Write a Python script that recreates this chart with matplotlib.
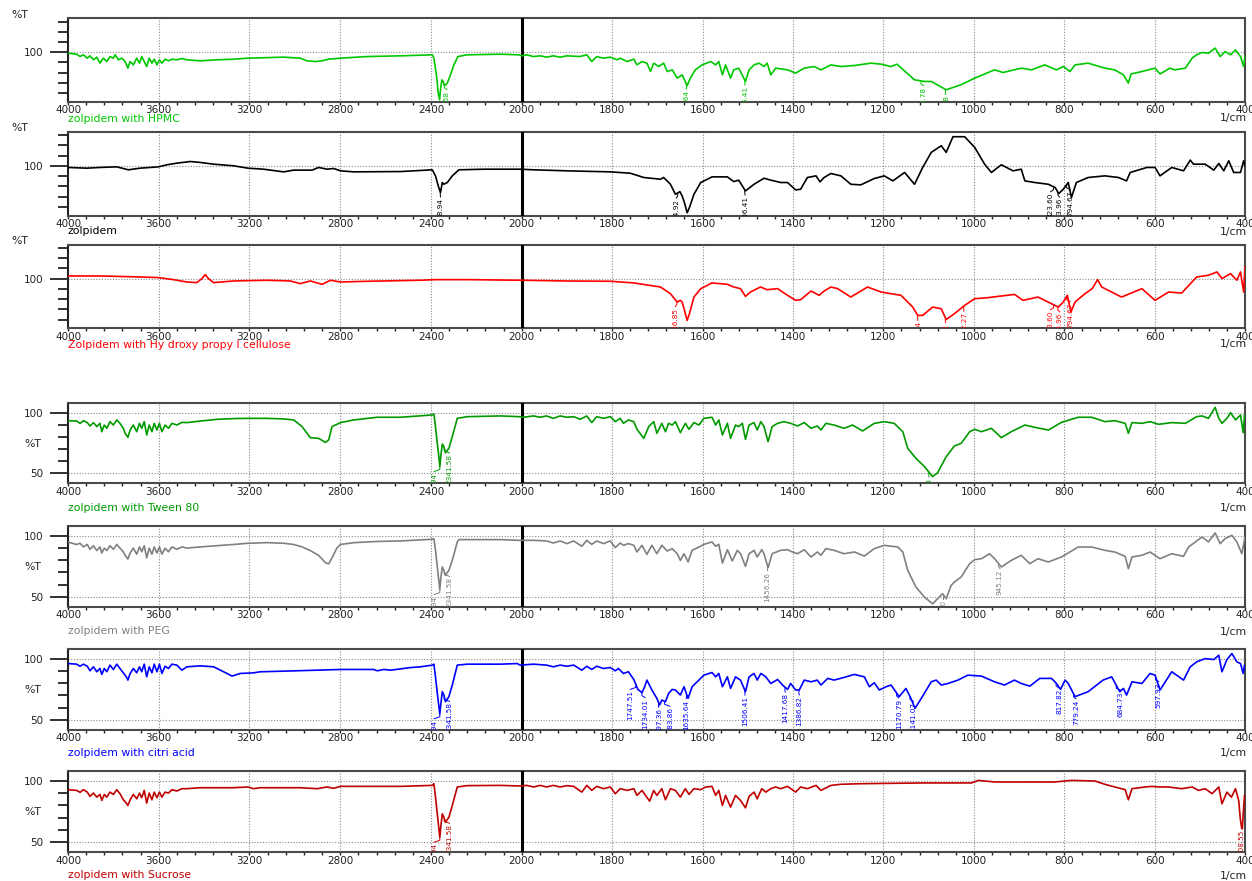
import numpy as np
import matplotlib
matplotlib.use("Agg")
import matplotlib.pyplot as plt

plt.rcParams['font.family'] = ['DejaVu Sans']

# ---------------- data (wavenumber in 1/cm, transmittance %T) ----------------
HPMC_WN = [4000,3962,3947,3932,3915,3903,3888,3873,3859,3844,3829,3815,3800,3792,3778,3763,3748,3736,3726,3712,
           3697,3685,3675,3664,3653,3642,3630,3620,3608,3597,3586,3572,3557,3542,3520,3498,3476,3417,3343,3270,
           3207,3049,2976,2946,2910,2880,2851,2800,2681,2534,2394,2387,2375,2368,2362,2358,2352,2346,2340,2328,
           2314,2299,2281,2240,2093,2012,2000,1989,1974,1959,1945,1930,1915,1900,1871,1856,1845,1834,1819,1804,
           1789,1782,1767,1752,1745,1734,1723,1715,1708,1697,1686,1678,1667,1656,1645,1634,1627,1616,1601,1582,
           1571,1564,1556,1549,1538,1531,1520,1505,1497,1486,1475,1464,1457,1449,1438,1412,1394,1375,1353,1338,
           1316,1294,1264,1227,1205,1183,1170,1131,1109,1094,1061,1028,998,954,935,895,872,843,817,802,
           787,776,747,710,688,669,658,652,628,599,588,566,555,532,517,507,495,481,466,455,
           444,432,421,410,403,400]
HPMC_T = [99.0,98.0,95.7,97.4,94.1,96.4,92.5,95.1,89.2,94.1,90.8,95.7,94.1,97.4,92.5,94.1,90.8,84.3,90.8,87.5,
          94.1,89.2,95.7,90.8,85.9,94.1,89.2,93.1,87.5,92.5,89.2,93.1,91.5,93.1,92.5,93.8,92.5,91.5,92.5,93.1,
          94.1,95.1,94.1,91.5,90.8,91.5,93.1,94.1,95.7,96.4,97.4,94.1,76.1,59.8,53.2,63.0,72.8,71.2,67.0,69.6,
          77.7,87.5,95.7,97.4,98.0,97.4,96.4,97.4,95.7,96.4,95.1,96.4,95.1,96.4,95.7,97.4,90.8,95.7,94.1,95.1,
          92.5,94.1,90.8,93.1,87.5,90.8,89.2,81.0,89.2,85.9,89.2,81.0,82.6,74.5,77.7,67.0,74.5,82.6,87.5,90.8,
          87.5,90.8,77.7,87.5,74.5,82.6,84.3,71.2,82.6,87.5,89.2,85.9,89.2,77.7,84.3,82.6,79.4,84.3,85.9,82.6,
          87.5,85.9,86.9,89.2,88.2,85.9,88.2,72.8,71.2,71.2,63.0,68.0,74.5,82.6,80.0,84.3,82.6,87.5,82.6,85.9,
          81.0,87.5,89.2,84.3,82.6,77.7,69.6,78.6,81.0,84.3,78.6,84.3,82.6,84.3,94.1,97.4,99.7,99.0,104.0,95.7,
          100.6,97.4,102.3,95.7,85.9,96.4]

ZOLP_WN = [4000,3918,3859,3785,3734,3682,3601,3564,3520,3461,3417,3358,3270,3207,3138,3049,3005,2924,2895,2858,
           2829,2799,2740,2534,2394,2380,2368,2358,2350,2343,2328,2306,2277,2166,2004,1974,1900,1804,1760,1730,
           1693,1686,1671,1660,1650,1645,1640,1634,1629,1619,1604,1579,1545,1531,1520,1505,1486,1464,1449,1427,
           1412,1394,1383,1368,1349,1340,1331,1316,1294,1272,1250,1220,1198,1179,1153,1131,1113,1094,1072,1061,
           1046,1020,998,976,961,939,913,895,887,865,835,820,812,802,791,784,773,747,710,680,
           662,654,617,599,588,562,536,521,514,488,469,458,447,436,425,410,403,400]
ZOLP_T = [98.4,97.7,98.4,99.0,96.1,97.7,99.0,101.0,102.6,104.2,103.3,101.6,100.0,97.7,96.7,94.1,95.8,95.8,98.4,96.7,
          97.4,95.1,94.1,94.4,96.1,90.2,80.4,73.9,83.7,82.0,83.7,90.2,96.1,96.7,96.7,96.1,95.1,94.1,92.8,88.6,
          86.9,88.6,82.0,72.2,74.8,70.6,64.0,54.2,59.2,72.2,83.7,89.2,89.2,84.6,86.0,75.5,82.0,87.9,86.0,83.7,
          83.7,76.5,77.1,88.6,90.2,84.3,88.6,92.5,90.2,82.0,81.4,87.6,90.2,85.3,93.5,82.0,98.4,113.1,119.6,113.1,
          128.4,128.4,118.0,101.6,93.5,101.0,95.1,96.7,85.3,83.7,82.0,78.8,72.9,77.1,83.7,69.0,83.7,88.6,90.2,88.6,
          85.3,93.5,98.4,98.4,90.2,98.4,95.1,105.6,101.6,101.6,95.8,102.3,95.1,104.9,93.5,93.5,104.9,100.0]

HPC_WN = [4000,3859,3682,3601,3535,3476,3432,3410,3395,3381,3358,3270,3123,3020,2976,2932,2880,2843,2799,2681,
          2446,2380,2240,2004,1900,1804,1752,1693,1671,1656,1649,1645,1640,1634,1629,1619,1604,1579,1545,1531,
          1516,1505,1494,1472,1457,1434,1412,1394,1383,1360,1342,1331,1316,1301,1272,1235,1205,1183,1161,1135,
          1124,1113,1091,1072,1061,1043,1020,998,969,910,891,858,828,813,802,793,785,776,754,738,
          726,717,673,628,599,569,540,507,481,462,451,432,418,410,403,400]
HPC_T = [102.6,102.6,101.6,101.0,99.0,96.7,96.1,100.0,103.9,100.0,96.1,97.7,98.4,97.7,95.1,97.7,94.4,98.4,96.7,97.4,
         98.4,99.0,99.0,98.4,97.7,97.4,95.8,91.8,85.3,77.1,78.8,77.1,69.0,59.2,65.7,82.0,90.2,95.8,94.4,91.8,
         90.2,82.7,86.9,91.8,89.2,90.2,83.7,78.8,79.4,87.9,83.7,87.9,91.8,90.2,82.0,91.8,86.9,85.3,83.7,72.2,
         64.1,64.1,72.2,70.6,60.1,65.7,73.9,80.4,81.4,84.6,78.8,82.0,75.5,72.2,77.1,83.7,67.3,77.1,85.3,90.2,
         99.0,91.8,82.0,90.2,78.8,86.9,85.9,101.6,103.3,106.5,100.0,104.9,98.4,106.5,86.9,111.4]

TWEEN_WN = [4000,3962,3947,3932,3915,3903,3888,3873,3859,3851,3840,3829,3815,3800,3785,3771,3756,3748,3736,3726,
            3712,3697,3685,3675,3664,3653,3642,3630,3620,3608,3597,3586,3572,3557,3542,3520,3498,3476,3417,3343,
            3270,3207,3122,3049,3005,2968,2932,2895,2865,2851,2836,2799,2740,2637,2534,2394,2387,2380,2372,2365,
            2361,2356,2350,2343,2336,2321,2306,2284,2240,2093,2012,1996,1974,1959,1945,1930,1915,1900,1885,1871,
            1856,1845,1834,1819,1804,1793,1782,1775,1764,1752,1745,1730,1719,1708,1701,1690,1682,1675,1667,1660,
            1649,1638,1630,1619,1608,1597,1579,1571,1564,1556,1545,1538,1527,1520,1512,1505,1497,1486,1479,1471,
            1464,1455,1446,1434,1420,1405,1390,1375,1360,1346,1338,1327,1309,1287,1268,1246,1220,1198,1176,1157,
            1146,1128,1109,1091,1080,1061,1043,1028,1009,998,983,961,939,917,887,865,835,806,769,739,
            710,688,665,658,650,628,610,591,562,532,517,507,495,481,466,458,451,440,432,421,
            410,404,401,400]
TWEEN_T = [93.4,93.1,91.2,93.4,91.8,89.0,91.8,88.5,91.2,84.3,89.8,87.1,92.6,89.8,94.0,91.2,87.1,83.0,79.7,85.7,
           89.8,84.3,91.2,87.1,92.6,81.6,89.8,84.3,91.2,85.7,91.2,84.3,89.8,87.1,91.2,89.8,92.0,91.8,93.1,94.5,
           95.1,95.3,95.3,94.8,94.0,88.5,79.4,78.8,75.5,77.5,88.5,91.8,94.0,96.2,96.2,98.1,98.9,88.5,74.7,63.7,
           55.5,65.1,74.2,72.0,67.0,70.6,80.2,95.3,96.7,97.3,96.7,96.2,97.3,96.2,97.3,95.3,97.3,96.2,96.7,94.5,
           97.3,91.8,96.7,95.3,96.7,92.6,95.3,91.2,94.0,92.6,86.3,78.8,88.5,92.6,83.0,91.2,84.3,91.2,89.8,92.6,
           83.5,91.2,86.3,91.8,89.8,95.3,96.2,89.8,94.0,81.6,91.2,78.8,89.8,88.5,91.2,78.0,89.8,91.8,85.7,92.6,
           88.5,76.1,88.5,91.2,92.6,91.2,89.0,91.8,87.1,89.0,85.7,91.2,89.8,87.1,89.8,84.9,91.2,92.6,91.2,84.3,
           70.6,62.4,55.5,47.3,50.5,63.7,72.5,74.7,84.3,86.3,84.3,87.1,79.4,84.3,89.8,87.9,85.7,92.0,96.2,96.2,
           92.6,93.4,91.2,83.0,91.8,91.2,92.6,90.4,91.8,91.2,94.5,96.7,97.3,95.3,104.4,95.3,91.2,95.3,100.0,94.0,
           98.1,83.5,98.1,96.7]

PEG_WN = [4000,3962,3947,3932,3915,3903,3888,3873,3859,3851,3840,3829,3815,3800,3785,3771,3756,3748,3736,3726,
          3712,3697,3685,3675,3664,3653,3642,3630,3620,3608,3597,3586,3572,3557,3542,3520,3498,3476,3417,3343,
          3270,3207,3122,3049,3005,2968,2932,2895,2865,2851,2836,2815,2799,2740,2637,2534,2394,2387,2380,2372,
          2365,2361,2356,2350,2343,2336,2321,2306,2284,2277,2093,2012,1974,1945,1930,1915,1900,1885,1867,1856,
          1845,1834,1819,1804,1793,1782,1775,1764,1752,1745,1734,1723,1712,1701,1690,1678,1667,1656,1649,1641,
          1632,1623,1608,1597,1579,1571,1564,1556,1545,1534,1523,1516,1505,1497,1486,1479,1469,1464,1455,1446,
          1427,1412,1401,1390,1375,1360,1346,1338,1327,1309,1287,1264,1242,1220,1198,1168,1157,1146,1128,1109,
          1091,1080,1069,1061,1050,1043,1028,1009,998,983,965,954,939,917,895,876,858,835,806,769,
          739,710,688,665,658,650,628,610,588,562,536,525,510,495,481,466,455,444,429,418,
          407,400]
PEG_T = [95.0,93.0,94.0,91.0,93.0,89.0,92.0,88.0,91.0,86.0,90.0,88.0,92.0,89.0,93.0,90.0,87.0,84.0,81.0,86.0,
         90.0,85.0,91.0,87.0,92.0,82.0,90.0,85.0,91.0,86.0,91.0,85.0,90.0,87.0,91.0,89.0,91.0,90.0,91.0,92.0,
         93.0,94.0,94.5,94.0,93.0,91.0,88.0,84.0,78.0,77.0,82.0,90.0,93.0,94.5,95.5,95.9,97.3,97.8,88.2,74.5,
         62.1,55.8,66.2,74.5,71.7,67.6,71.7,79.9,95.1,97.0,97.0,96.4,96.4,95.9,94.2,95.9,93.7,95.9,91.5,96.4,
         93.1,95.9,93.7,95.9,90.4,94.2,92.3,93.7,92.3,86.8,92.3,84.9,92.3,85.4,92.3,87.6,89.6,85.4,79.9,85.4,
         78.6,88.2,90.9,93.1,95.1,91.5,93.1,77.7,88.7,79.4,88.2,85.4,75.0,85.4,88.2,82.7,88.7,85.4,73.9,85.4,
         88.2,88.7,86.8,85.4,88.7,82.7,86.8,84.1,89.6,88.2,85.4,86.8,83.5,89.6,92.3,90.9,86.8,71.7,58.0,49.7,
         44.2,48.4,52.5,48.4,59.3,62.1,66.2,77.2,80.5,81.3,85.4,81.3,74.5,79.9,84.1,77.2,81.3,78.6,82.7,90.9,
         90.9,88.2,86.8,83.2,73.1,82.7,84.1,86.8,81.3,85.4,83.2,90.9,95.1,99.2,95.1,102.5,93.7,97.8,100.5,95.1,
         85.4,99.2]

CITRIC_WN = [4000,3962,3947,3932,3915,3903,3888,3873,3859,3851,3840,3829,3815,3800,3785,3771,3756,3743,3736,3726,
             3712,3697,3685,3675,3664,3653,3642,3630,3620,3608,3597,3586,3572,3557,3542,3520,3498,3476,3417,3358,
             3299,3277,3241,3182,3153,3049,2902,2799,2652,2637,2608,2578,2490,2446,2394,2387,2380,2372,2365,2361,
             2356,2350,2343,2336,2321,2306,2284,2240,2093,2020,2007,1974,1945,1930,1915,1900,1885,1867,1856,1845,
             1834,1819,1804,1793,1786,1775,1764,1752,1743,1734,1728,1723,1712,1701,1695,1690,1682,1675,1667,1660,
             1649,1641,1632,1623,1612,1597,1579,1571,1564,1556,1545,1538,1527,1516,1505,1497,1486,1479,1471,1460,
             1449,1434,1423,1412,1405,1394,1386,1375,1360,1346,1338,1323,1309,1287,1264,1242,1231,1220,1209,1194,
             1183,1165,1150,1139,1130,1116,1094,1083,1072,1057,1035,1013,983,954,932,910,895,876,854,828,
             817,808,798,791,776,747,714,695,677,669,662,650,628,610,599,588,562,536,521,507,
             488,469,458,451,440,429,418,410,404,401,400]
CITRIC_T = [96.4,95.9,94.2,95.9,94.2,90.4,93.7,89.6,92.3,87.4,92.3,89.6,95.1,91.5,95.9,92.3,88.7,85.4,82.7,88.2,
            92.3,88.7,93.7,89.6,95.9,85.4,93.7,88.7,95.9,89.6,95.9,88.2,94.2,92.3,95.9,95.1,90.9,93.7,94.5,93.7,
            88.2,86.0,88.2,88.7,89.6,90.1,90.9,91.5,91.5,90.4,91.5,90.9,93.1,93.7,95.1,95.9,85.4,71.7,60.7,54.7,
            63.5,73.1,70.3,64.8,69.0,78.6,95.1,95.9,95.9,96.4,95.1,95.9,95.1,93.7,95.1,94.2,95.1,90.9,94.2,91.5,
            94.2,92.3,93.1,90.4,92.3,88.2,89.6,83.2,75.0,72.3,77.2,82.7,74.5,67.6,62.1,66.2,64.8,71.7,75.0,74.5,
            70.3,77.2,67.6,77.2,81.3,86.8,89.0,85.4,88.2,77.2,85.4,75.8,85.4,82.7,73.1,85.4,88.2,82.7,88.2,85.4,
            79.9,83.2,78.6,75.0,79.9,74.5,74.5,82.7,81.3,82.7,78.6,84.1,82.7,84.9,87.4,85.4,77.2,80.5,74.5,77.2,
            78.6,69.0,75.8,67.6,59.3,67.6,81.3,82.7,78.6,79.9,82.7,86.8,86.0,81.3,78.6,82.7,79.9,77.7,84.1,84.1,
            79.9,75.0,82.7,79.9,69.0,73.1,82.7,85.4,73.1,75.8,70.3,81.3,79.9,88.2,86.8,74.5,89.6,82.7,93.7,97.8,
            100.5,99.7,103.3,89.6,99.7,104.7,97.8,96.4,88.2,95.1,92.3]

SUCROSE_WN = [4000,3962,3947,3932,3915,3903,3888,3873,3859,3851,3840,3829,3815,3800,3785,3771,3756,3743,3736,3726,
              3712,3697,3685,3675,3664,3653,3642,3630,3620,3608,3597,3586,3572,3557,3542,3520,3498,3476,3417,3270,
              3207,3182,3153,2976,2902,2858,2829,2799,2534,2394,2387,2380,2372,2365,2361,2356,2350,2343,2336,2321,
              2306,2284,2240,2093,2007,1989,1974,1959,1945,1930,1915,1900,1885,1867,1856,1845,1834,1819,1804,1793,
              1782,1767,1752,1745,1734,1717,1708,1701,1690,1682,1671,1660,1649,1638,1630,1619,1604,1593,1579,1571,
              1564,1556,1549,1538,1527,1516,1505,1497,1486,1479,1469,1460,1449,1438,1427,1412,1394,1383,1368,1349,
              1338,1316,1294,1249,1116,1005,990,954,821,784,732,710,688,665,658,650,621,606,591,569,
              540,517,503,488,473,458,451,440,430,421,414,410,406,403,401,400]
SUCROSE_T = [92.9,92.3,90.7,92.9,90.9,87.4,90.1,86.8,89.0,84.1,89.0,86.8,90.9,89.0,92.9,89.6,84.6,81.9,79.9,84.6,
             89.0,85.4,90.1,86.3,92.3,81.9,90.1,84.6,90.9,86.3,90.9,86.8,90.9,90.1,92.9,91.8,93.7,93.7,94.5,94.5,
             95.1,93.7,94.5,94.5,93.7,95.1,94.0,95.6,95.6,96.4,97.8,86.8,73.1,60.7,53.8,63.5,73.1,70.3,66.2,70.3,
             79.9,95.1,96.2,96.4,95.9,96.4,95.1,96.4,95.1,96.4,95.1,96.2,95.6,90.9,96.4,92.3,95.6,93.7,95.1,89.6,
             93.7,92.3,93.7,88.2,92.3,83.5,92.3,88.2,93.7,84.6,93.7,92.3,86.8,93.7,89.0,93.7,92.9,95.1,95.6,88.2,
             92.3,79.9,88.2,78.6,88.2,84.1,78.0,87.4,90.9,85.4,93.7,90.9,93.7,95.1,93.7,95.6,90.9,95.1,93.7,96.4,
             92.3,96.4,97.3,97.8,98.4,98.4,100.5,99.2,99.2,100.5,100.0,97.3,95.1,92.9,84.6,93.7,95.1,95.6,95.1,95.1,
             93.7,95.1,92.3,93.7,89.6,95.1,81.3,90.9,86.8,93.7,84.1,67.6,60.7,78.6,88.2,86.8]

# peak labels: (peak wavenumber, label, label position wavenumber)
HPMC_PEAKS = [(2341.58, "2341.58", 2330), (1635.64, "1635.64", 1636), (1506.41, "1506.41", 1506),
              (1116.78, "1116.78", 1111), (1062.78, "1062.78", 1062)]
ZOLP_PEAKS = [(2358.94, "2358.94", 2358), (1654.92, "1654.92", 1658), (1506.41, "1506.41", 1506),
              (823.60, "823.60", 830), (813.96, "813.96", 810), (794.67, "794.67", 787)]
HPC_PEAKS = [(1656.85, "1656.85", 1660), (1124.14, "1124.14", 1124), (1062.92, "1062.92", 1062),
             (1022.27, "1022.27", 1022), (823.60, "823.60", 830), (813.96, "813.96", 810), (794.67, "794.67", 787)]
TWEEN_PEAKS = [(2360.94, "2360.94", 2386), (2341.58, "2341.58", 2318), (1099.43, "1099.43", 1099)]
PEG_PEAKS = [(2360.94, "2360.94", 2386), (2341.58, "2341.58", 2318), (1456.26, "1456.26", 1456),
             (1068.00, "1068.00", 1068), (945.12, "945.12", 942)]
CITRIC_PEAKS = [(2360.94, "2360.94", 2386), (2341.58, "2341.58", 2318), (1747.51, "1747.51", 1760),
                (1734.01, "1734.01", 1727), (1697.36, "1697.36", 1697), (1683.86, "1683.86", 1672),
                (1635.64, "1635.64", 1636), (1506.41, "1506.41", 1506), (1417.68, "1417.68", 1417),
                (1386.82, "1386.82", 1386), (1170.79, "1170.79", 1166), (1141.07, "1141.07", 1133),
                (817.82, "817.82", 811), (779.24, "779.24", 774), (684.73, "684.73", 675), (597.93, "597.93", 591)]
SUCROSE_PEAKS = [(2360.94, "2360.94", 2386), (2341.58, "2341.58", 2318), (408.55, "408.55", 408)]

LABELS = ["zolpidem with HPMC", "zolpidem", "Zolpidem with Hy droxy propy l cellulose",
          "zolpidem with Tween 80", "zolpidem with PEG", "zolpidem with citri acid", "zolpidem with Sucrose"]

X_MAJOR = [4000, 3600, 3200, 2800, 2400, 2000, 1800, 1600, 1400, 1200, 1000, 800, 600, 400]

# ---------------- layout ----------------
W, H = 1252, 881
fig = plt.figure(figsize=(W / 100, H / 100), dpi=100)

R_SCALE = 723.3 / 1600.0
L_SCALE = 453.7 / 2000.0


def fwd(x):
    x = np.asarray(x, dtype=float)
    return np.where(x <= 2000, (x - 400) * R_SCALE, 723.3 + (x - 2000) * L_SCALE)


def inv(u):
    u = np.asarray(u, dtype=float)
    return np.where(u <= 723.3, 400 + u / R_SCALE, 2000 + (u - 723.3) / L_SCALE)


minor_left = [v for v in range(4000, 2000, -80) if v % 400 != 0]
minor_right = [v for v in range(2000, 399, -40) if v % 200 != 0]
X_MINOR = minor_left + minor_right

panels = [
    dict(wn=HPMC_WN, t=HPMC_T, c="#00c800", peaks=HPMC_PEAKS, top=18.3, bot=101.5, kind="top", lab=118.5),
    dict(wn=ZOLP_WN, t=ZOLP_T, c="#000000", peaks=ZOLP_PEAKS, top=131.7, bot=215.5, kind="top", lab=231.5),
    dict(wn=HPC_WN, t=HPC_T, c="#ff0000", peaks=HPC_PEAKS, top=244.5, bot=328.3, kind="top", lab=344.5),
    dict(wn=TWEEN_WN, t=TWEEN_T, c="#009a00", peaks=TWEEN_PEAKS, top=402.7, bot=483.3, kind="bot", lab=508.0),
    dict(wn=PEG_WN, t=PEG_T, c="#808080", peaks=PEG_PEAKS, top=526.0, bot=606.7, kind="bot", lab=631.5),
    dict(wn=CITRIC_WN, t=CITRIC_T, c="#0000ff", peaks=CITRIC_PEAKS, top=649.3, bot=729.5, kind="bot", lab=753.0),
    dict(wn=SUCROSE_WN, t=SUCROSE_T, c="#c00000", peaks=SUCROSE_PEAKS, top=771.0, bot=852.0, kind="bot", lab=875.5),
]

SPINE = "#4a4a4a"
GRID = "#8a8a8a"
TXT = "#222222"

for p, label in zip(panels, LABELS):
    ax = fig.add_axes([68 / W, 1 - p["bot"] / H, 1177 / W, (p["bot"] - p["top"]) / H])
    ax.set_xscale("function", functions=(fwd, inv))
    ax.set_xlim(4000, 400)
    if p["kind"] == "top":
        ax.set_ylim(51.5, 133.3)
        ax.set_yticks([100])
        ax.set_yticklabels(["100"])
        ax.set_yticks([60, 70, 80, 90, 110, 120, 130], minor=True)
        hgrid = [100]
        ppu = 1.02
    else:
        ax.set_ylim(41.8, 108.2)
        ax.set_yticks([50, 100])
        ax.set_yticklabels(["50", "100"])
        ax.set_yticks([60, 70, 80, 90], minor=True)
        hgrid = [50, 100]
        ppu = 1.213

    for g in X_MAJOR[1:-1]:
        if g != 2000:
            ax.axvline(g, color=GRID, lw=0.8, ls=(0, (1, 1.5)), zorder=0)
    for g in hgrid:
        ax.axhline(g, color=GRID, lw=0.8, ls=(0, (1, 1.5)), zorder=0)
    ax.axvline(2000, color="black", lw=2.2, zorder=3)

    wn = np.array(p["wn"], dtype=float)
    t = np.array(p["t"], dtype=float)
    ax.plot(wn, t, color=p["c"], lw=1.2, zorder=4, solid_joinstyle="round")

    # peak annotations
    order = np.argsort(wn)
    for pk, txt, tx in p["peaks"]:
        yp = np.interp(pk, wn[order], t[order])
        ax.plot([pk, pk, tx], [yp - 0.5 / ppu, yp - 3 / ppu, yp - 5 / ppu], color=p["c"], lw=0.7, zorder=4)
        ax.text(tx, yp - 6 / ppu, txt, rotation=90, ha="center", va="top", fontsize=5.2,
                color=p["c"], clip_on=True, zorder=4)

    ax.set_xticks(X_MAJOR)
    ax.set_xticklabels([str(v) for v in X_MAJOR])
    ax.set_xticks(X_MINOR, minor=True)
    ax.tick_params(axis="x", which="both", direction="out", length=2, width=1.0,
                   pad=0.6, labelsize=7.5, colors=TXT)
    ax.tick_params(axis="y", which="major", direction="out", length=13, width=1.3, pad=5,
                   labelsize=7.5, colors=TXT)
    ax.tick_params(axis="y", which="minor", direction="out", length=7, width=1.3, colors=TXT)
    for s in ax.spines.values():
        s.set_color(SPINE)
        s.set_linewidth(1.5)
    ax.spines["left"].set_color(TXT)

    fig.text(68 / W, 1 - p["lab"] / H, label, color=p["c"], fontsize=7.8, ha="left", va="center")
    fig.text(1247 / W, 1 - p["lab"] / H, "1/cm", color=TXT, fontsize=7.8, ha="right", va="center")
    if p["kind"] == "top":
        fig.text(11 / W, 1 - (p["top"] - 3.5) / H, "%T", fontsize=7.8, ha="left", va="center", color=TXT)
    else:
        fig.text(32.7 / W, 1 - (p["top"] + 41) / H, "%T", fontsize=7.8, ha="center", va="center", color=TXT)

fig.savefig("out.png", dpi=100)
